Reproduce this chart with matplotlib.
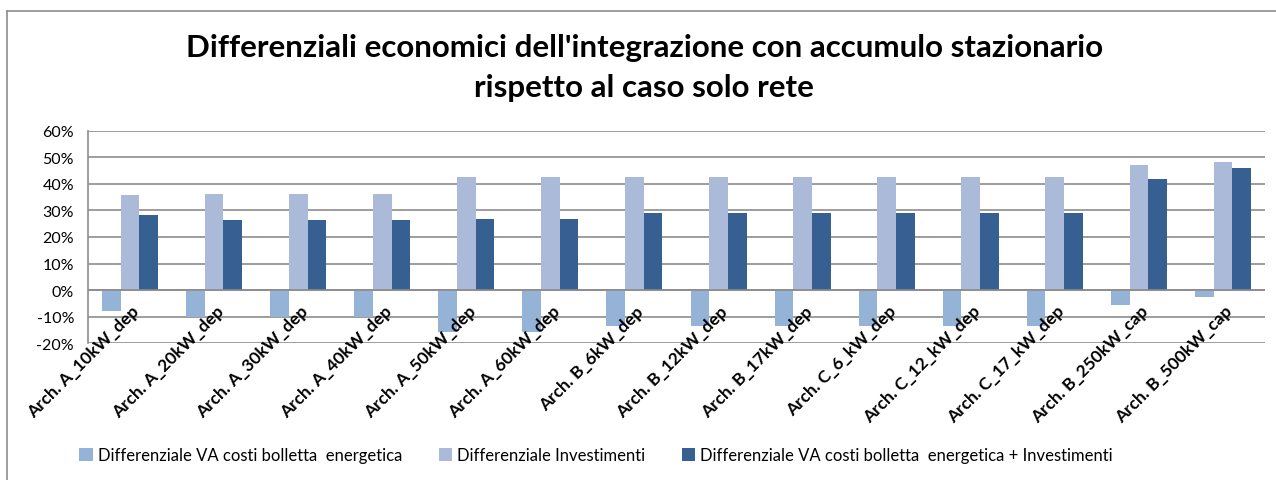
import numpy as np
import matplotlib
matplotlib.use('Agg')
import matplotlib.pyplot as plt
from matplotlib.lines import Line2D

plt.rcParams['font.family'] = ['Lato', 'DejaVu Sans']

categories = ['Arch. A_10kW_dep', 'Arch. A_20kW_dep', 'Arch. A_30kW_dep', 'Arch. A_40kW_dep',
              'Arch. A_50kW_dep', 'Arch. A_60kW_dep', 'Arch. B_6kW_dep', 'Arch. B_12kW_dep',
              'Arch. B_17kW_dep', 'Arch. C_6_kW_dep', 'Arch. C_12_kW_dep', 'Arch. C_17_kW_dep',
              'Arch. B_250kW_cap', 'Arch. B_500kW_cap']
# values in %
diff_bolletta = [-7.7, -10.0, -10.0, -10.0, -15.6, -15.6, -13.6, -13.6, -13.6, -13.6, -13.6, -13.6, -5.5, -2.4]
diff_invest = [35.8, 36.0, 36.0, 36.0, 42.7, 42.7, 42.7, 42.7, 42.7, 42.7, 42.7, 42.7, 47.0, 48.2]
diff_totale = [28.3, 26.3, 26.3, 26.3, 26.9, 26.9, 28.9, 28.9, 28.9, 28.9, 28.9, 28.9, 41.8, 46.0]
series_names = ['Differenziale VA costi bolletta  energetica', 'Differenziale Investimenti',
                'Differenziale VA costi bolletta  energetica + Investimenti']
colors = ['#95b3d7', '#aabad8', '#376092']

fig = plt.figure(figsize=(12.76, 4.81), dpi=100)
ax = fig.add_axes([88/1276, 1-344.3/481, (1265-88)/1276, (344.3-131.7)/481])

x = np.arange(len(categories))
w = 1/4.5
for i, (vals, c, name) in enumerate(zip([diff_bolletta, diff_invest, diff_totale], colors, series_names)):
    ax.bar(x + (i-1)*w, vals, width=w, color=c, label=name, zorder=3)

ax.set_xlim(-0.5, len(categories)-0.5)
ax.set_ylim(-20, 60)
ax.set_yticks(range(-20, 61, 10))
ax.set_yticklabels(['%d%%' % v for v in range(-20, 61, 10)], fontsize=11.5)
ax.yaxis.grid(True, color='#8c8c8c', linewidth=1.2, zorder=0)
ax.axhline(0, color='#8c8c8c', linewidth=1.2, zorder=4)
ax.tick_params(axis='y', length=0, pad=10)
ax.set_xticks([])
for s in ['top', 'right', 'bottom']:
    ax.spines[s].set_visible(False)
ax.spines['left'].set_color('#8c8c8c')
ax.spines['left'].set_linewidth(1.2)

# category labels sit right under the 0% axis line
for xi, lab in zip(x, categories):
    ax.annotate(lab, (xi, 0), xytext=(1, -9), textcoords='offset points',
                rotation=45, ha='right', va='top', rotation_mode='anchor',
                fontsize=12.5, fontweight='bold', zorder=5)

fig.text(0.505, 1-48/481, "Differenziali economici dell'integrazione con accumulo stazionario",
         ha='center', va='center', fontsize=22.5, fontweight='bold')
fig.text(0.505, 1-88/481, "rispetto al caso solo rete",
         ha='center', va='center', fontsize=22.5, fontweight='bold')

fig.legend(loc='center', bbox_to_anchor=(596/1276, 1-456/481), ncol=3, frameon=False,
           fontsize=12, handlelength=0.8, handleheight=0.8, handletextpad=0.3, columnspacing=2.2)

fig.add_artist(Line2D([7/1276, 7/1276], [0, 1-12/481], transform=fig.transFigure, color='#8c8c8c', linewidth=1.2))
fig.add_artist(Line2D([7/1276, 1], [1-12/481, 1-12/481], transform=fig.transFigure, color='#8c8c8c', linewidth=1.2))

fig.savefig('out.png', dpi=100)
